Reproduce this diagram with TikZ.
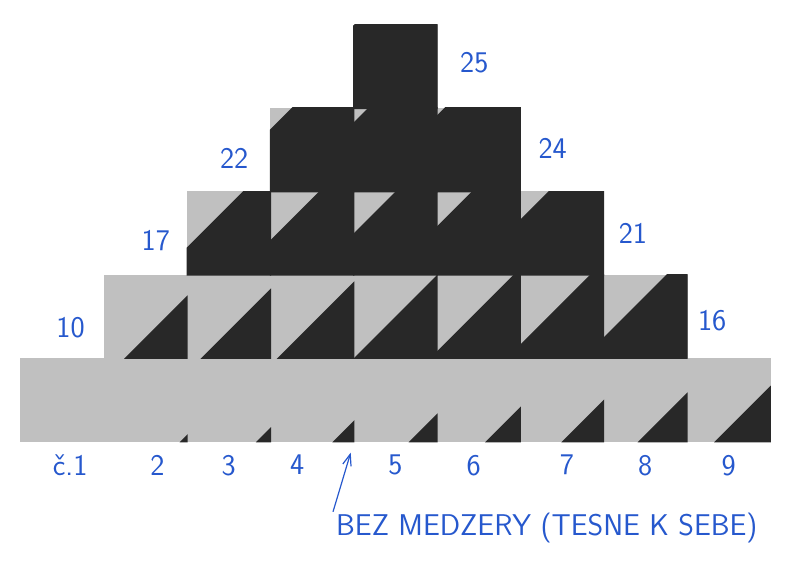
\documentclass[tikz,border=0pt]{standalone}
\usepackage{fontspec}
\usepackage{tikz}
\usetikzlibrary{arrows.meta,calc,positioning}
\definecolor{pen}{RGB}{38,88,205}
\definecolor{paper}{RGB}{192,192,192}
\definecolor{ink}{RGB}{40,40,40}

\begin{document}
\begin{tikzpicture}[
      x=1pt, y=-1pt,
      font=\sffamily\fontsize{30}{32}\selectfont,
      >={Straight Barb[length=4mm,width=3mm]},
      tile/.style={fill=paper, draw=paper, line width=0.6pt, minimum size=83.3pt, inner sep=0pt, outer sep=0pt},
      hand/.style={text=pen, inner sep=1pt},
]
\useasboundingbox (0,0) rectangle (800,585);

% squares, row by row from the bottom
\foreach \r/\first/\cnt in {0/1/9, 1/10/7, 2/17/5, 3/22/3, 4/25/1} {
  \foreach \i in {1,...,\cnt} {
    \pgfmathtruncatemacro{\n}{\first+\i-1}
    \node[tile] (q\n) at ({20.5+83.3*(\r+\i-0.5)}, {400-83.3*\r}) {};
  }
}

% dark part grows by 1/12 of the side from square to square
\foreach \n in {2,...,25} {
  \pgfmathsetmacro{\L}{(\n-1)*83.3/12}
  \begin{scope}
    \clip ($(q\n.south west)+(-0.6,0.6)$) rectangle ($(q\n.north east)+(0.6,-0.6)$);
    \fill[ink] ($(q\n.south east)+(0.6,0.6)$) -- ++({-\L-1.2},0) -- ++({\L+1.2},{-\L-1.2}) -- cycle;
  \end{scope}
}

% numbers
\foreach \i/\txt/\dx in {1/č.1/8, 2/2/12, 3/3/0, 4/4/-15, 5/5/0, 6/6/-5, 7/7/5, 8/8/0, 9/9/0}
  \node[hand, below=12pt of q\i, xshift=\dx pt] (lab\i) {\txt};
\foreach \n/\gap/\dy in {10/18/-11, 17/16/-7, 22/21/-8}
  \node[hand, left=\gap pt of q\n, yshift=\dy pt] (lab\n) {\n};
\foreach \n/\gap/\dy in {16/10/-4, 21/14/0, 24/17/2, 25/22/4}
  \node[hand, right=\gap pt of q\n, yshift=\dy pt] (lab\n) {\n};

\node[hand, anchor=west] (note) at (335,528) {BEZ MEDZERY (TESNE K SEBE)};
\coordinate (gap) at ($(q4.south east)+(-3,11)$);
\draw[pen, line width=1.2pt, ->] ($(note.north west)+(-2,0)$) -- (gap);

\end{tikzpicture}
\end{document}
